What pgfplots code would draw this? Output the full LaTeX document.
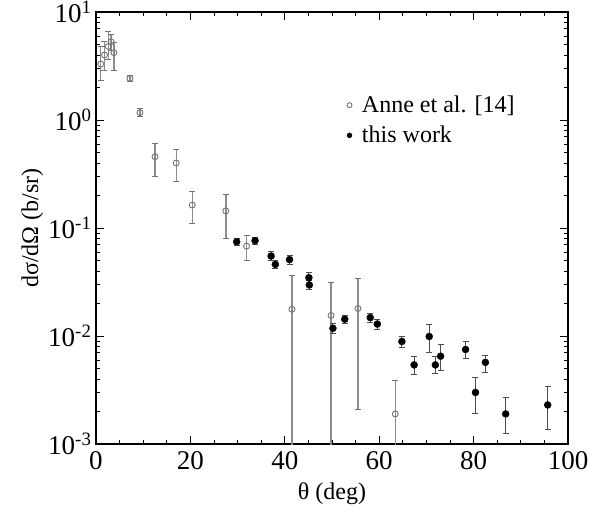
\documentclass[border=0pt]{standalone}
\usepackage{fontspec}
\setmainfont{Liberation Serif}
\usepackage{pgfplots}
\usepackage{pgfplotstable}
\pgfplotsset{compat=1.18}

\pgfplotstableread{
x y ep em
1.0 3.3 1.5 1.0
1.8 4.0 1.3 1.1
2.6 4.8 1.8 1.2
3.2 5.3 0.9 0.9
3.8 4.2 1.0 1.3
7.2 2.43 0.17 0.18
9.3 1.17 0.10 0.10
12.5 0.457 0.143 0.157
17.0 0.40 0.13 0.13
20.4 0.163 0.057 0.053
27.5 0.144 0.062 0.064
31.9 0.068 0.018 0.018
41.5 0.0177 0.019 0.0176
49.8 0.0155 0.0157 0.0154
55.5 0.018 0.016 0.0159
63.4 0.0019 0.002 0.0018
}\anne

\pgfplotstableread{
x y ep em
29.8 0.0746 0.006 0.006
33.7 0.0764 0.006 0.006
37.1 0.055 0.005 0.005
38.0 0.046 0.004 0.004
41.0 0.051 0.005 0.005
45.1 0.0347 0.004 0.004
45.2 0.0297 0.003 0.003
50.2 0.0118 0.0012 0.0012
52.7 0.0143 0.0013 0.0013
58.1 0.0148 0.0014 0.0014
59.6 0.0129 0.0013 0.0013
64.8 0.0089 0.0010 0.0010
67.4 0.0054 0.0011 0.0010
70.6 0.0099 0.0030 0.0029
71.9 0.0054 0.0010 0.0009
73.0 0.0065 0.0019 0.0017
78.3 0.0075 0.0014 0.0013
80.4 0.0030 0.0011 0.0011
82.5 0.0057 0.0009 0.0011
86.8 0.0019 0.0008 0.00065
95.7 0.0023 0.0011 0.00093
}\thiswork

\begin{document}
\begin{tikzpicture}[font=\fontsize{24}{28}\selectfont]
\begin{axis}[
  scale only axis,
  width=472pt, height=432pt,
  ymode=log,
  xmin=0, xmax=100,
  ymin=1e-3, ymax=10,
  xtick={0,20,40,60,80,100},
  minor x tick num=3,
  ytick={1e-3,1e-2,1e-1,1,10},
  yticklabels={10\textsuperscript{-3},10\textsuperscript{-2},10\textsuperscript{-1},10\textsuperscript{0},10\textsuperscript{1}},
  xticklabels={0,20,40,60,80,100},
  tick align=inside,
  tick pos=both,
  major tick length=8pt,
  minor tick length=4pt,
  every tick/.style={black, line width=0.8pt},
  axis line style={line width=2.5pt},
  tick label style={font=\fontsize{27}{32}\selectfont},
  xticklabel style={yshift=-4pt},
  yticklabel style={xshift=-1pt},
  xlabel={θ (deg)},
  ylabel={dσ/dΩ (b/sr)},
  xlabel style={yshift=-6pt},
  ylabel style={yshift=-2pt},
  legend style={draw=none, fill=none, at={(rel axis cs:0.525,0.815)}, anchor=north west,
    font=\fontsize{24}{28}\selectfont, row sep=8pt,
    legend cell align=left,
    /tikz/every odd column/.append style={column sep=8pt}},
  legend image post style={mark size=2.5pt},
  clip=true,
]
\addplot[only marks, mark=o, mark size=3pt, color=black!55, line width=0.9pt,
  error bars/.cd, y dir=both, y explicit,
  error bar style={color=black!45, line width=1.4pt},
  error mark options={rotate=90, mark size=3pt, line width=1pt, color=black!55}]
  table[x=x, y=y, y error plus=ep, y error minus=em] {\anne};
\addlegendentry{Anne et al. [14]}
\addplot[only marks, mark=*, mark size=3.5pt, color=black,
  error bars/.cd, y dir=both, y explicit,
  error bar style={color=black!70, line width=1pt},
  error mark options={rotate=90, mark size=3pt, line width=1pt, color=black!70}]
  table[x=x, y=y, y error plus=ep, y error minus=em] {\thiswork};
\addlegendentry{this work}
\end{axis}
\pgfresetboundingbox
\path (current axis.south west) ++(-96pt,-73pt) coordinate (bbA);
\path (current axis.north east) ++(26pt,12pt) coordinate (bbB);
\useasboundingbox (bbA) rectangle (bbB);
\end{tikzpicture}
\end{document}
